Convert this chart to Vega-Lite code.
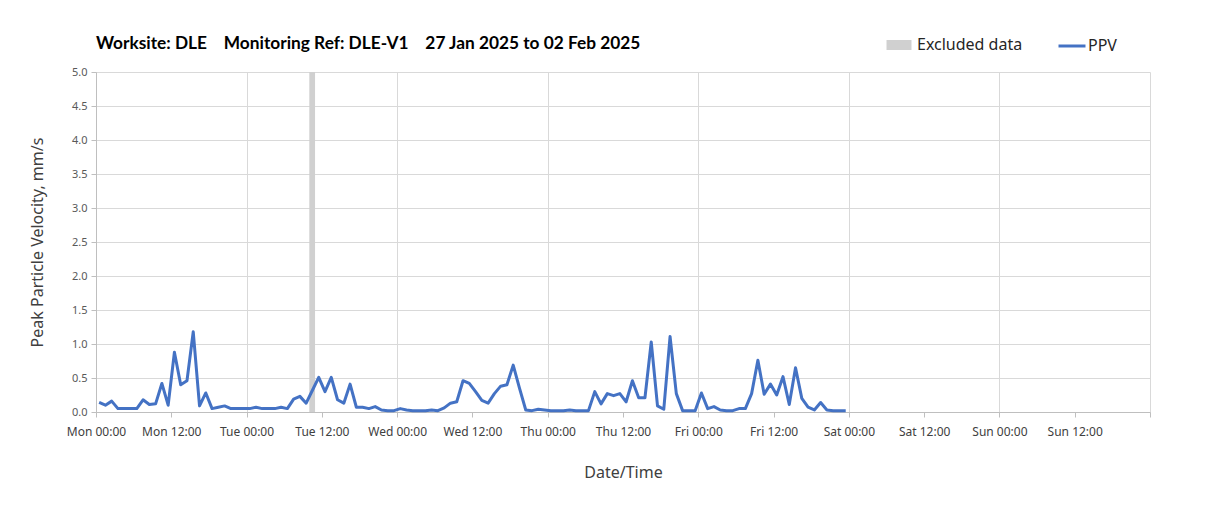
{
  "$schema": "https://vega.github.io/schema/vega-lite/v6.json",
  "width": 1054,
  "height": 340,
  "autosize": {"type": "none"},
  "padding": {"left": 96, "top": 72, "right": 58, "bottom": 97},
  "background": "white",
  "title": {
    "text": "Worksite: DLE\u00a0\u00a0\u00a0\u00a0Monitoring Ref: DLE-V1\u00a0\u00a0\u00a0\u00a027 Jan 2025 to 02 Feb 2025",
    "anchor": "start",
    "frame": "group",
    "font": "Lato",
    "fontSize": 17.3,
    "fontWeight": "bold",
    "color": "#000000",
    "offset": -21
  },
  "config": {
    "view": {"stroke": null},
    "font": "Noto Sans"
  },
  "resolve": {"axis": {"x": "independent"}},
  "layer": [
    {
      "data": {"values": [{"start": "2025-01-28T10:00:00", "end": "2025-01-28T10:55:00"}]},
      "mark": {"type": "rect"},
      "encoding": {
        "x": {
          "field": "start",
          "type": "temporal",
          "scale": {"domain": [{"year": 2025, "month": 1, "date": 27}, {"year": 2025, "month": 2, "date": 3}]},
          "axis": {
            "orient": "bottom",
            "title": null,
            "tickCount": {"interval": "day", "step": 1},
            "grid": true,
            "gridColor": "#d9d9d9",
            "labels": false,
            "ticks": false,
            "domain": false
          }
        },
        "x2": {"field": "end"},
        "fill": {
          "datum": "Excluded data",
          "type": "nominal",
          "scale": {"domain": ["Excluded data"], "range": ["#d0d0d0"]},
          "legend": {
            "orient": "none",
            "legendX": 793,
            "legendY": -37,
            "title": null,
            "labelFontSize": 16,
            "labelColor": "#262626",
            "labelOffset": 8,
            "symbolType": "M-1.25,-0.5H1.25V0.5H-1.25Z",
            "symbolSize": 400,
            "symbolStrokeWidth": 0,
            "symbolOpacity": 1
          }
        }
      }
    },
    {
      "data": {"values": [
        {"t": "2025-01-27T00:30:00", "ppv": 0.14}, {"t": "2025-01-27T01:30:00", "ppv": 0.10}, {"t": "2025-01-27T02:30:00", "ppv": 0.16}, {"t": "2025-01-27T03:30:00", "ppv": 0.05},
        {"t": "2025-01-27T04:30:00", "ppv": 0.05}, {"t": "2025-01-27T05:30:00", "ppv": 0.05}, {"t": "2025-01-27T06:30:00", "ppv": 0.05}, {"t": "2025-01-27T07:30:00", "ppv": 0.18},
        {"t": "2025-01-27T08:30:00", "ppv": 0.11}, {"t": "2025-01-27T09:30:00", "ppv": 0.12}, {"t": "2025-01-27T10:30:00", "ppv": 0.42}, {"t": "2025-01-27T11:30:00", "ppv": 0.10},
        {"t": "2025-01-27T12:30:00", "ppv": 0.88}, {"t": "2025-01-27T13:30:00", "ppv": 0.40}, {"t": "2025-01-27T14:30:00", "ppv": 0.46}, {"t": "2025-01-27T15:30:00", "ppv": 1.18},
        {"t": "2025-01-27T16:30:00", "ppv": 0.09}, {"t": "2025-01-27T17:30:00", "ppv": 0.28}, {"t": "2025-01-27T18:30:00", "ppv": 0.05}, {"t": "2025-01-27T19:30:00", "ppv": 0.07},
        {"t": "2025-01-27T20:30:00", "ppv": 0.09}, {"t": "2025-01-27T21:30:00", "ppv": 0.05}, {"t": "2025-01-27T22:30:00", "ppv": 0.05}, {"t": "2025-01-27T23:30:00", "ppv": 0.05},
        {"t": "2025-01-28T00:30:00", "ppv": 0.05}, {"t": "2025-01-28T01:30:00", "ppv": 0.07}, {"t": "2025-01-28T02:30:00", "ppv": 0.05}, {"t": "2025-01-28T03:30:00", "ppv": 0.05},
        {"t": "2025-01-28T04:30:00", "ppv": 0.05}, {"t": "2025-01-28T05:30:00", "ppv": 0.07}, {"t": "2025-01-28T06:30:00", "ppv": 0.05}, {"t": "2025-01-28T07:30:00", "ppv": 0.19},
        {"t": "2025-01-28T08:30:00", "ppv": 0.23}, {"t": "2025-01-28T09:30:00", "ppv": 0.13}, {"t": "2025-01-28T10:30:00", "ppv": 0.32}, {"t": "2025-01-28T11:30:00", "ppv": 0.51},
        {"t": "2025-01-28T12:30:00", "ppv": 0.30}, {"t": "2025-01-28T13:30:00", "ppv": 0.51}, {"t": "2025-01-28T14:30:00", "ppv": 0.18}, {"t": "2025-01-28T15:30:00", "ppv": 0.13},
        {"t": "2025-01-28T16:30:00", "ppv": 0.41}, {"t": "2025-01-28T17:30:00", "ppv": 0.07}, {"t": "2025-01-28T18:30:00", "ppv": 0.07}, {"t": "2025-01-28T19:30:00", "ppv": 0.05},
        {"t": "2025-01-28T20:30:00", "ppv": 0.08}, {"t": "2025-01-28T21:30:00", "ppv": 0.03}, {"t": "2025-01-28T22:30:00", "ppv": 0.02}, {"t": "2025-01-28T23:30:00", "ppv": 0.02},
        {"t": "2025-01-29T00:30:00", "ppv": 0.05}, {"t": "2025-01-29T01:30:00", "ppv": 0.03}, {"t": "2025-01-29T02:30:00", "ppv": 0.02}, {"t": "2025-01-29T03:30:00", "ppv": 0.02},
        {"t": "2025-01-29T04:30:00", "ppv": 0.02}, {"t": "2025-01-29T05:30:00", "ppv": 0.03}, {"t": "2025-01-29T06:30:00", "ppv": 0.02}, {"t": "2025-01-29T07:30:00", "ppv": 0.06},
        {"t": "2025-01-29T08:30:00", "ppv": 0.13}, {"t": "2025-01-29T09:30:00", "ppv": 0.15}, {"t": "2025-01-29T10:30:00", "ppv": 0.46}, {"t": "2025-01-29T11:30:00", "ppv": 0.42},
        {"t": "2025-01-29T12:30:00", "ppv": 0.30}, {"t": "2025-01-29T13:30:00", "ppv": 0.17}, {"t": "2025-01-29T14:30:00", "ppv": 0.13}, {"t": "2025-01-29T15:30:00", "ppv": 0.27},
        {"t": "2025-01-29T16:30:00", "ppv": 0.38}, {"t": "2025-01-29T17:30:00", "ppv": 0.40}, {"t": "2025-01-29T18:30:00", "ppv": 0.69}, {"t": "2025-01-29T19:30:00", "ppv": 0.35},
        {"t": "2025-01-29T20:30:00", "ppv": 0.03}, {"t": "2025-01-29T21:30:00", "ppv": 0.02}, {"t": "2025-01-29T22:30:00", "ppv": 0.04}, {"t": "2025-01-29T23:30:00", "ppv": 0.03},
        {"t": "2025-01-30T00:30:00", "ppv": 0.02}, {"t": "2025-01-30T01:30:00", "ppv": 0.02}, {"t": "2025-01-30T02:30:00", "ppv": 0.02}, {"t": "2025-01-30T03:30:00", "ppv": 0.03},
        {"t": "2025-01-30T04:30:00", "ppv": 0.02}, {"t": "2025-01-30T05:30:00", "ppv": 0.02}, {"t": "2025-01-30T06:30:00", "ppv": 0.02}, {"t": "2025-01-30T07:30:00", "ppv": 0.30},
        {"t": "2025-01-30T08:30:00", "ppv": 0.12}, {"t": "2025-01-30T09:30:00", "ppv": 0.27}, {"t": "2025-01-30T10:30:00", "ppv": 0.24}, {"t": "2025-01-30T11:30:00", "ppv": 0.27},
        {"t": "2025-01-30T12:30:00", "ppv": 0.15}, {"t": "2025-01-30T13:30:00", "ppv": 0.46}, {"t": "2025-01-30T14:30:00", "ppv": 0.21}, {"t": "2025-01-30T15:30:00", "ppv": 0.21},
        {"t": "2025-01-30T16:30:00", "ppv": 1.03}, {"t": "2025-01-30T17:30:00", "ppv": 0.09}, {"t": "2025-01-30T18:30:00", "ppv": 0.04}, {"t": "2025-01-30T19:30:00", "ppv": 1.11},
        {"t": "2025-01-30T20:30:00", "ppv": 0.27}, {"t": "2025-01-30T21:30:00", "ppv": 0.02}, {"t": "2025-01-30T22:30:00", "ppv": 0.02}, {"t": "2025-01-30T23:30:00", "ppv": 0.02},
        {"t": "2025-01-31T00:30:00", "ppv": 0.28}, {"t": "2025-01-31T01:30:00", "ppv": 0.05}, {"t": "2025-01-31T02:30:00", "ppv": 0.08}, {"t": "2025-01-31T03:30:00", "ppv": 0.03},
        {"t": "2025-01-31T04:30:00", "ppv": 0.02}, {"t": "2025-01-31T05:30:00", "ppv": 0.02}, {"t": "2025-01-31T06:30:00", "ppv": 0.05}, {"t": "2025-01-31T07:30:00", "ppv": 0.05},
        {"t": "2025-01-31T08:30:00", "ppv": 0.27}, {"t": "2025-01-31T09:30:00", "ppv": 0.76}, {"t": "2025-01-31T10:30:00", "ppv": 0.26}, {"t": "2025-01-31T11:30:00", "ppv": 0.41},
        {"t": "2025-01-31T12:30:00", "ppv": 0.25}, {"t": "2025-01-31T13:30:00", "ppv": 0.52}, {"t": "2025-01-31T14:30:00", "ppv": 0.11}, {"t": "2025-01-31T15:30:00", "ppv": 0.65},
        {"t": "2025-01-31T16:30:00", "ppv": 0.20}, {"t": "2025-01-31T17:30:00", "ppv": 0.07}, {"t": "2025-01-31T18:30:00", "ppv": 0.03}, {"t": "2025-01-31T19:30:00", "ppv": 0.14},
        {"t": "2025-01-31T20:30:00", "ppv": 0.03}, {"t": "2025-01-31T21:30:00", "ppv": 0.02}, {"t": "2025-01-31T22:30:00", "ppv": 0.02}, {"t": "2025-01-31T23:30:00", "ppv": 0.02}
      ]},
      "mark": {"type": "line", "strokeWidth": 3, "strokeJoin": "round"},
      "encoding": {
        "x": {
          "field": "t",
          "type": "temporal",
          "axis": {
            "orient": "bottom",
            "title": "Date/Time",
            "values": [
              {"year": 2025, "month": 1, "date": 27, "hours": 0}, {"year": 2025, "month": 1, "date": 27, "hours": 12},
              {"year": 2025, "month": 1, "date": 28, "hours": 0}, {"year": 2025, "month": 1, "date": 28, "hours": 12},
              {"year": 2025, "month": 1, "date": 29, "hours": 0}, {"year": 2025, "month": 1, "date": 29, "hours": 12},
              {"year": 2025, "month": 1, "date": 30, "hours": 0}, {"year": 2025, "month": 1, "date": 30, "hours": 12},
              {"year": 2025, "month": 1, "date": 31, "hours": 0}, {"year": 2025, "month": 1, "date": 31, "hours": 12},
              {"year": 2025, "month": 2, "date": 1, "hours": 0}, {"year": 2025, "month": 2, "date": 1, "hours": 12},
              {"year": 2025, "month": 2, "date": 2, "hours": 0}, {"year": 2025, "month": 2, "date": 2, "hours": 12},
              {"year": 2025, "month": 2, "date": 3, "hours": 0}
            ],
            "format": "%a %H:%M",
            "labelExpr": "datum.index >= 0.99 ? '' : datum.label",
            "grid": false,
            "domainColor": "#bfbfbf",
            "tickColor": "#bfbfbf",
            "tickSize": 5,
            "labelFontSize": 12,
            "labelColor": "#404040",
            "labelPadding": 9,
            "labelFlush": false,
            "labelOverlap": false,
            "titleFontSize": 16,
            "titleFontWeight": "normal",
            "titleColor": "#404040",
            "titlePadding": 27
          }
        },
        "y": {
          "field": "ppv",
          "type": "quantitative",
          "scale": {"domain": [0, 5], "nice": false},
          "axis": {
            "title": "Peak Particle Velocity, mm/s",
            "values": [0, 0.5, 1, 1.5, 2, 2.5, 3, 3.5, 4, 4.5, 5],
            "format": ".1f",
            "gridColor": "#d9d9d9",
            "domainColor": "#bfbfbf",
            "tickColor": "#bfbfbf",
            "tickSize": 5,
            "labelFontSize": 11,
            "labelColor": "#595959",
            "labelPadding": 4,
            "titleFontSize": 16,
            "titleFontWeight": "normal",
            "titleColor": "#404040",
            "titlePadding": 26
          }
        },
        "stroke": {
          "datum": "PPV",
          "type": "nominal",
          "scale": {"domain": ["PPV"], "range": ["#4472c4"]},
          "legend": {
            "orient": "none",
            "legendX": 961,
            "legendY": -41,
            "title": null,
            "labelFontSize": 16,
            "labelColor": "#262626",
            "labelOffset": 1,
            "symbolType": "stroke",
            "symbolSize": 729,
            "symbolStrokeWidth": 3,
            "symbolOpacity": 1
          }
        }
      }
    }
  ]
}
